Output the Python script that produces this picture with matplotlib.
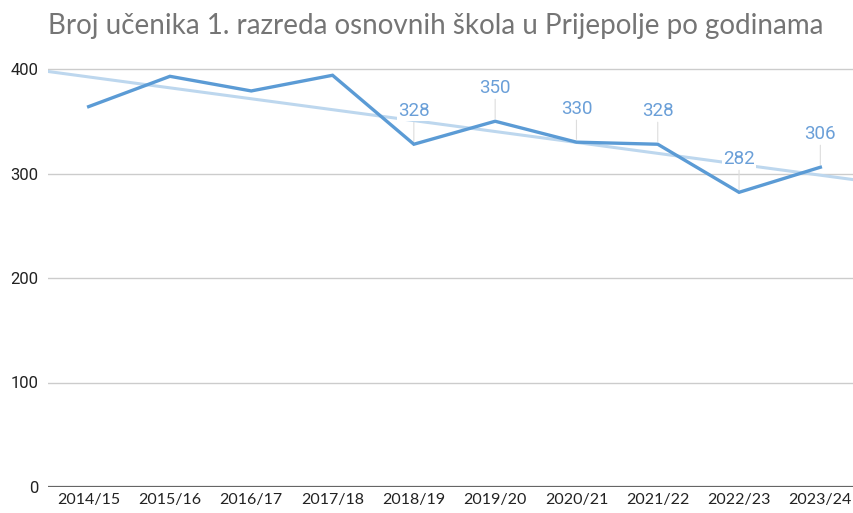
import numpy as np
import matplotlib.pyplot as plt

# data
years = ['2014/15', '2015/16', '2016/17', '2017/18', '2018/19',
         '2019/20', '2020/21', '2021/22', '2022/23', '2023/24']
students = [364, 393, 379, 394, 328, 350, 330, 328, 282, 306]
labelled = [4, 5, 6, 7, 8, 9]   # points that carry a data label

LINE = '#5b9bd5'
TREND = '#bdd7ee'

fig = plt.figure(figsize=(8.54, 5.13), dpi=100)
W, H = 854, 513
ax = fig.add_axes([48 / W, (H - 487) / H, (861 - 48) / W, (487 - 45) / H])

x = np.arange(len(years))
ax.set_xlim(-0.5, len(years) - 0.5)
ax.set_ylim(0, 400 * (487 - 45) / (487 - 69))

# linear trendline
k, b = np.polyfit(x, students, 1)
tx = np.array([-0.5, len(years) - 0.5])
ax.plot(tx, k * tx + b, color=TREND, lw=2.2, zorder=2)

ax.plot(x, students, color=LINE, lw=2.4, zorder=3, solid_joinstyle='miter')

for i in labelled:
    v = students[i]
    ax.annotate(str(v), xy=(i, v), xytext=(0, 33), textcoords='offset pixels',
                ha='center', va='center', color='#6a9fd8', fontsize=13.5,
                family='Roboto', zorder=5,
                bbox=dict(boxstyle='square,pad=0.05', fc='white', ec='none'))
    ax.annotate('', xy=(i, v), xytext=(0, 22), textcoords='offset pixels',
                arrowprops=dict(arrowstyle='-', color='#dddddd', lw=0.8,
                                shrinkA=0, shrinkB=2), zorder=1)

ax.set_yticks([0, 100, 200, 300, 400])
ax.set_xticks(x)
ax.set_xticklabels(years, family='Lato', fontsize=11.5, color='#222222')
for t in ax.get_yticklabels():
    t.set_family('Roboto')
    t.set_fontsize(12)
    t.set_color('#222222')
ax.tick_params(length=0, pad=7)
ax.tick_params(axis='x', pad=4)

ax.grid(axis='y', color='#cccccc', lw=1)
ax.axhline(0, color='#666666', lw=1.6, zorder=2)
ax.set_axisbelow(True)
for s in ax.spines.values():
    s.set_visible(False)

fig.text(436 / W, 1 - 26 / H, 'Broj učenika 1. razreda osnovnih škola u Prijepolje po godinama',
         ha='center', va='center', fontsize=20, family='Lato', color='#757575')

fig.savefig('out.png', dpi=100)
